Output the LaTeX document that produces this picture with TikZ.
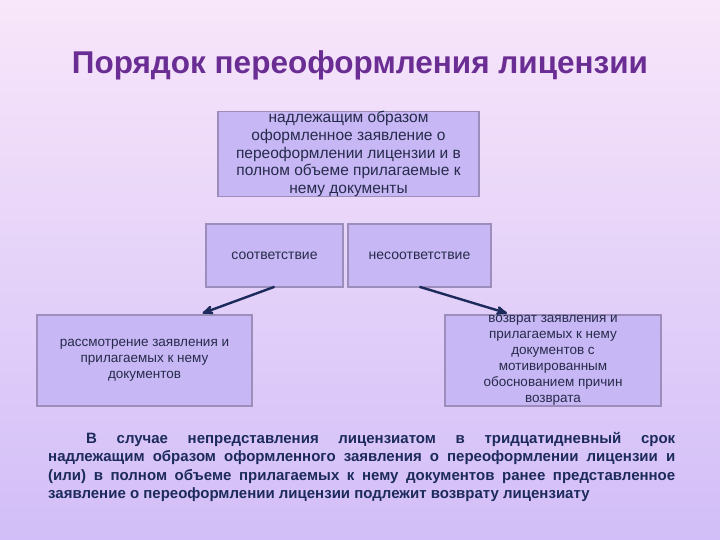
\documentclass[tikz,border=0pt]{standalone}
\usepackage{fontspec}
\setmainfont{Liberation Sans}
\usepackage{xcolor}
\usetikzlibrary{arrows,calc}
\definecolor{bgtop}{HTML}{F8E6FA}
\definecolor{bgbot}{HTML}{D2BEF8}
\definecolor{boxfill}{HTML}{C7B7F4}
\definecolor{boxline}{HTML}{9C8DBA}
\definecolor{titlecol}{HTML}{6A2D93}
\definecolor{textcol}{HTML}{262B4C}
\definecolor{navy}{HTML}{1C2A5C}
\tikzset{
	stage/.style={
			draw=boxline, fill=boxfill, line width=1.6pt,
			text=textcol, align=center, inner sep=0pt,
			font=\fontsize{13.5}{16}\selectfont
		},
	link/.style={->, >=stealth', navy, line width=2.4pt}
}

\begin{document}
\begin{tikzpicture}[x=1pt, y=-1pt]
			\shade[top color=bgtop, bottom color=bgbot] (0, 0) rectangle (720, 540);
			\useasboundingbox (0, 0) rectangle (720, 540);

			\node[titlecol, font=\fontsize{31.5}{36}\selectfont\bfseries] (title) at (360, 65) {Порядок переоформления лицензии};

			\node[stage, minimum width=261pt, minimum height=85pt, font=\fontsize{15.5}{17.6}\selectfont] (app) at (348.5, 154)
				{надлежащим образом\\оформленное заявление о\\переоформлении лицензии и в\\полном объеме прилагаемые к\\нему документы};

			\node[stage, minimum width=137pt, minimum height=63pt, font=\fontsize{14}{16}\selectfont] (yes) at (274.5, 255.5) {соответствие};
			\node[stage, minimum width=143pt, minimum height=63pt, font=\fontsize{14}{16}\selectfont] (no) at (419.5, 255.5) {несоответствие};

			\node[stage, minimum width=215pt, minimum height=91pt] (review) at (144.5, 360.5)
				{рассмотрение заявления и\\прилагаемых к нему\\документов};
			\node[stage, minimum width=216pt, minimum height=91pt] (back) at (553, 360.5)
				{возврат заявления и\\прилагаемых к нему\\документов с\\мотивированным\\обоснованием причин\\возврата};

			\coordinate (yesout) at ($(yes.south)+(0, -1)$);
			\coordinate (noout) at ($(no.south)+(0, -1)$);
			\draw[link] (yesout) -- ($(review.north)+(58, -1)$);
			\draw[link] (noout) -- ($(back.north)+(-46, -1)$);

			\node[navy, anchor=north west, text width=627pt, align=justify, inner sep=0pt,
				font=\fontsize{15}{18.5}\selectfont\bfseries] (note) at (48, 432)
				{\hspace*{38pt}В случае непредставления лицензиатом в тридцатидневный срок\linebreak
				надлежащим образом оформленного заявления о переоформлении лицензии и\linebreak
				(или) в полном объеме прилагаемых к нему документов ранее представленное\linebreak
				заявление о переоформлении лицензии подлежит возврату лицензиату};
		\end{tikzpicture}
\end{document}
